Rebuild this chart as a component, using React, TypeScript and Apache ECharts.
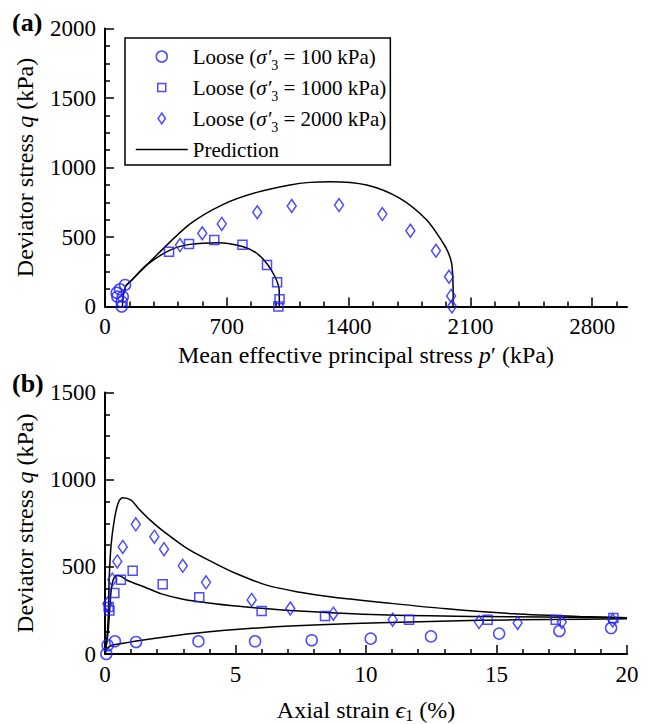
import React, { useEffect, useRef } from 'react';
import * as echarts from 'echarts';

const FONT = "'Liberation Serif', 'Times New Roman', Times, serif";
const BLUE = '#1e1eff';

const N100 = 'Loose (σ′3 = 100 kPa)';
const N1000 = 'Loose (σ′3 = 1000 kPa)';
const N2000 = 'Loose (σ′3 = 2000 kPa)';
const NPRED = 'Prediction';

// ---------- Panel (a): q vs p' ----------
const circlesA = [[96, 0], [96, 35], [102, 71], [71, 71], [67, 99], [86, 124], [115, 155]];
const squaresA = [[996, 0], [1003, 52], [989, 174], [931, 299], [790, 445], [628, 478], [483, 450], [368, 394]];
const diamondsA = [[431, 442], [559, 527], [671, 594], [875, 678], [1073, 723], [1345, 730], [1594, 665], [1755, 545], [1902, 401], [1977, 214], [1989, 76], [1994, 0]];
const pred100A = [[100, 0], [103, 50], [108, 100], [114, 130], [120, 150]];
const pred1000A = [[1002, 0], [1001, 119], [977, 214], [929, 311], [872, 383], [795, 430], [651, 459], [489, 447], [374, 406], [240, 299], [144, 178], [120, 150]];
const pred2000A = [[2000, 0], [2001, 100], [1999, 200], [1992, 311], [1972, 390], [1944, 455], [1849, 622], [1695, 778], [1504, 874], [1293, 898], [1178, 893], [1063, 874], [872, 821], [680, 735], [489, 594], [297, 370], [200, 248], [144, 178], [120, 150]];

// ---------- Panel (b): q vs axial strain ----------
const circlesB = [[0.05, 0], [0.1, 50], [0.38, 73], [1.19, 69], [3.58, 73], [5.75, 73], [7.92, 79], [10.18, 88], [12.49, 101], [15.1, 117], [17.41, 132], [19.39, 149]];
const squaresB = [[0.17, 250], [0.14, 270], [0.36, 350], [0.61, 426], [1.06, 477], [2.21, 400], [3.61, 326], [6.0, 246], [8.43, 218], [11.65, 197], [14.66, 197], [17.27, 197], [19.48, 206]];
const diamondsB = [[0.09, 288], [0.28, 426], [0.47, 531], [0.68, 614], [1.18, 744], [1.89, 673], [2.26, 601], [2.98, 506], [3.87, 411], [5.62, 310], [7.1, 261], [8.75, 231], [11.02, 197], [14.33, 183], [15.81, 178], [17.5, 183], [19.45, 193]];
const pred100B = [[0, 0], [0.1, 35], [0.3, 52], [0.7, 62], [1.2, 74], [2, 92], [3, 112], [4, 128], [5, 141], [6, 151], [7.09, 160], [8.5, 169], [10.54, 179], [14.37, 193], [17, 198], [20, 202]];
const pred1000B = [[0, 0], [0.08, 80], [0.13, 145], [0.19, 278], [0.26, 392], [0.38, 446], [0.5, 450], [0.89, 420], [1.53, 383], [2.17, 345], [2.94, 316], [4.21, 288], [5.5, 268], [7.09, 250], [10.54, 225], [14.37, 215], [20, 208]];
const pred2000B = [[0, 0], [0.08, 100], [0.13, 240], [0.16, 430], [0.23, 620], [0.36, 772], [0.51, 867], [0.68, 896], [1.0, 882], [1.28, 835], [1.7, 772], [2.17, 712], [3.19, 601], [4.21, 520], [5.0, 463], [6.19, 395], [7.47, 354], [8.62, 328], [10.54, 297], [13.09, 259], [15.64, 231], [18.2, 215], [20, 208]];

// ---------- Tick values ----------
const xMajorA = [0, 700, 1400, 2100, 2800];
const xMinorStepA = 140;
const xMaxA = 3000;

const nameStyle = {
  fontFamily: FONT,
  fontSize: 24,
  color: '#000',
  lineHeight: 26,
  rich: {
    i: { fontFamily: FONT, fontSize: 24, fontStyle: 'italic', color: '#000', lineHeight: 26 },
    s: { fontFamily: FONT, fontSize: 16, color: '#000', lineHeight: 10, verticalAlign: 'bottom' },
  },
};

const axisLineStyle = { show: true, onZero: false, lineStyle: { color: '#000', width: 2 } };
const TICK_FS = 23;
const tickLabel = (margin: number) => ({
  fontFamily: FONT, fontSize: TICK_FS, color: '#000', margin,
  formatter: (v: number) => `{t|${v}}`,
  rich: { t: { fontFamily: FONT, fontSize: TICK_FS, color: '#000', lineHeight: 24 } },
});

function scatter(name: string, data: number[][], symbol: string, size: any, xi: number, yi: number) {
  return {
    type: 'scatter', name, data, symbol, symbolSize: size, xAxisIndex: xi, yAxisIndex: yi,
    itemStyle: { color: 'rgba(0,0,0,0)', borderColor: BLUE, borderWidth: 1.5 },
    emphasis: { disabled: true }, silent: true, z: 3,
  };
}
function predLine(data: number[][], xi: number, yi: number) {
  return {
    type: 'line', name: NPRED, data, xAxisIndex: xi, yAxisIndex: yi, symbol: 'none', showSymbol: false, smooth: 0.3,
    lineStyle: { color: '#000', width: 1.5 }, itemStyle: { color: '#000' },
    emphasis: { disabled: true }, silent: true, z: 2,
  };
}

export default function App() {
  const ref = useRef<HTMLDivElement>(null);
  useEffect(() => {
    document.body.style.margin = '0';
    const chart = echarts.init(ref.current!, null, { renderer: 'svg' });
    const xMinorA: number[] = [];
    for (let v = xMinorStepA; v < xMaxA; v += xMinorStepA) {
      if (!xMajorA.includes(v)) xMinorA.push(v);
    }
    const legendText: Record<string, string> = {
      [N100]: 'Loose ({i|σ′}{s|3} = 100 kPa)',
      [N1000]: 'Loose ({i|σ′}{s|3} = 1000 kPa)',
      [N2000]: 'Loose ({i|σ′}{s|3} = 2000 kPa)',
      [NPRED]: 'Prediction',
    };
    chart.setOption({
      animation: false,
      backgroundColor: '#fff',
      textStyle: { fontFamily: FONT, color: '#000' },
      grid: [
        { left: 105, top: 28.5, width: 522, height: 278 },
        { left: 105, top: 392.5, width: 522, height: 263 },
      ],
      xAxis: [
        {
          type: 'value', gridIndex: 0, min: 0, max: xMaxA, position: 'bottom',
          axisLine: axisLineStyle,
          axisTick: { show: true, inside: true, length: 9, customValues: xMajorA, lineStyle: { color: '#000', width: 1.5 } },
          axisLabel: { ...tickLabel(8), customValues: xMajorA },
          minorTick: { show: false }, splitLine: { show: false },
          name: 'Mean effective principal stress {i|p}′ (kPa)', nameLocation: 'middle', nameGap: 35, nameTextStyle: nameStyle,
        },
        {
          type: 'value', gridIndex: 0, min: 0, max: xMaxA, position: 'bottom',
          axisLine: { show: false },
          axisTick: { show: true, inside: true, length: 5, customValues: xMinorA, lineStyle: { color: '#000', width: 1.5 } },
          axisLabel: { show: false }, splitLine: { show: false },
        },
        {
          type: 'value', gridIndex: 1, min: 0, max: 20, interval: 5, position: 'bottom',
          axisLine: axisLineStyle,
          axisTick: { show: true, inside: true, length: 9, lineStyle: { color: '#000', width: 1.5 } },
          minorTick: { show: true, splitNumber: 5, length: 5, lineStyle: { color: '#000', width: 1.5 } },
          axisLabel: tickLabel(8),
          splitLine: { show: false },
          name: 'Axial strain {i|ϵ}{s|1} (%)', nameLocation: 'middle', nameGap: 43, nameTextStyle: nameStyle,
        },
      ],
      yAxis: [
        {
          type: 'value', gridIndex: 0, min: 0, max: 2000, interval: 500,
          axisLine: axisLineStyle,
          axisTick: { show: true, inside: true, length: 9, lineStyle: { color: '#000', width: 1.5 } },
          minorTick: { show: true, splitNumber: 4, length: 5, lineStyle: { color: '#000', width: 1.5 } },
          axisLabel: tickLabel(9),
          splitLine: { show: false },
          name: 'Deviator stress {i|q} (kPa)', nameLocation: 'middle', nameGap: 67, nameTextStyle: nameStyle,
        },
        {
          type: 'value', gridIndex: 1, min: 0, max: 1500, interval: 500,
          axisLine: axisLineStyle,
          axisTick: { show: true, inside: true, length: 9, lineStyle: { color: '#000', width: 1.5 } },
          minorTick: { show: true, splitNumber: 4, length: 5, lineStyle: { color: '#000', width: 1.5 } },
          axisLabel: tickLabel(9),
          splitLine: { show: false },
          name: 'Deviator stress {i|q} (kPa)', nameLocation: 'middle', nameGap: 67, nameTextStyle: nameStyle,
        },
      ],
      legend: {
        orient: 'vertical', left: 125, top: 38, padding: [3, 4, 0, 10], itemGap: 0,
        itemWidth: 52, itemHeight: 11, borderColor: '#000', borderWidth: 1.5, backgroundColor: '#fff',
        selectedMode: false,
        itemStyle: { borderWidth: 1.5 }, lineStyle: { width: 1.5 },
        formatter: (n: string) => legendText[n] ?? n,
        textStyle: {
          fontFamily: FONT, fontSize: 21, color: '#000', lineHeight: 31,
          rich: {
            i: { fontFamily: FONT, fontSize: 21, fontStyle: 'italic', color: '#000', lineHeight: 31 },
            s: { fontFamily: FONT, fontSize: 14, color: '#000', lineHeight: 10, verticalAlign: 'bottom' },
          },
        },
        data: [
          { name: N100, icon: 'circle' },
          { name: N1000, icon: 'path://M0,0M11,11M1.5,1.5L9.5,1.5L9.5,9.5L1.5,9.5Z' },
          { name: N2000, icon: 'path://M4,0L8,6L4,12L0,6Z' },
          { name: NPRED, itemStyle: { color: 'rgba(0,0,0,0)', borderColor: 'rgba(0,0,0,0)', borderWidth: 0 } },
        ],
      },
      graphic: [
        { type: 'text', x: 12, y: 22, style: { text: '(a)', fontFamily: FONT, fontSize: 26, fontWeight: 'bold', fill: '#000', verticalAlign: 'middle' } },
        { type: 'text', x: 12, y: 383, style: { text: '(b)', fontFamily: FONT, fontSize: 26, fontWeight: 'bold', fill: '#000', verticalAlign: 'middle' } },
      ],
      series: [
        predLine(pred100A, 0, 0),
        predLine(pred1000A, 0, 0),
        predLine(pred2000A, 0, 0),
        scatter(N100, circlesA, 'circle', 11, 0, 0),
        scatter(N1000, squaresA, 'rect', 9, 0, 0),
        scatter(N2000, diamondsA, 'diamond', [9, 13], 0, 0),
        predLine(pred100B, 2, 1),
        predLine(pred1000B, 2, 1),
        predLine(pred2000B, 2, 1),
        scatter(N100, circlesB, 'circle', 11, 2, 1),
        scatter(N1000, squaresB, 'rect', 9, 2, 1),
        scatter(N2000, diamondsB, 'diamond', [9, 13], 2, 1),
      ],
    });
    return () => chart.dispose();
  }, []);
  return <div ref={ref} style={{ width: 649, height: 724 }} />;
}
